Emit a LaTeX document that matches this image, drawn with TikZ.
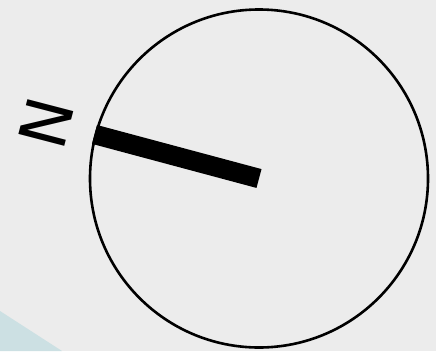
\documentclass[tikz,border=0pt]{standalone}
\usepackage{fontspec}
\setmainfont{DejaVu Sans}
\usetikzlibrary{positioning}
\definecolor{paper}{RGB}{236,236,236}
\definecolor{patchteal}{RGB}{204,224,227}

\begin{document}
\begin{tikzpicture}[x=1pt,y=-1pt,
  dialbox/.style={draw, circle, line width=2.6pt, minimum size=338pt, inner sep=0pt},
  hand/.style={line width=19.5pt, line cap=butt},
  northmark/.style={inner sep=0pt, font=\fontsize{65}{65}\selectfont, rotate=-104.6},
]
% paper and corner patch
\fill[paper] (0,0) rectangle (436,351);
\useasboundingbox (0,0) rectangle (436,351);
\fill[patchteal] (0,311) -- (62,351) -- (0,351) -- cycle;
% dial with its hand
\node[dialbox] (dial) at (259,178.5) {};
\draw[hand] (dial.center) -- (dial.165.4);
% north letter
\node[northmark] (nlabel) at (46,123) {N};
\end{tikzpicture}
\end{document}
